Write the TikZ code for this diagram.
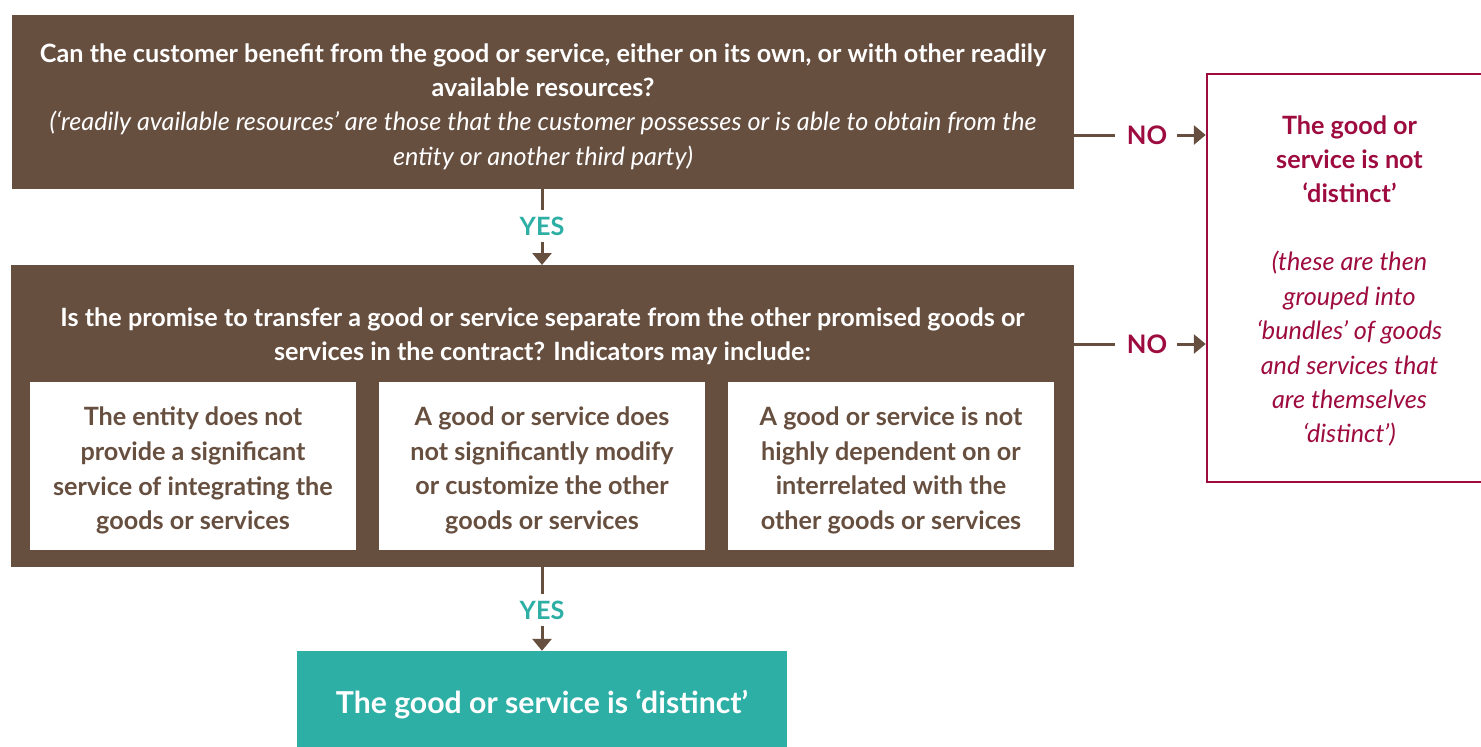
\documentclass[tikz,border=0pt]{standalone}
\usepackage{fontspec}
\setmainfont{Lato}
\usetikzlibrary{arrows.meta}
\definecolor{brn}{HTML}{674F40}
\definecolor{tealc}{HTML}{2DAFA5}
\definecolor{crim}{HTML}{9E0B3F}
\begin{document}
\begin{tikzpicture}[x=1pt,y=-1pt,
  brownbox/.style={fill=brn, draw=none, inner sep=0pt, outer sep=0pt},
  whitebox/.style={fill=white, draw=none, inner sep=0pt, outer sep=0pt, minimum width=326pt, minimum height=168pt},
  qtext/.style={text=white, align=center, inner sep=0pt, font=\fontsize{25.2}{34.5}\selectfont\bfseries},
  qital/.style={text=white, align=center, inner sep=0pt, font=\fontsize{25.2}{34.5}\selectfont\itshape},
  ctext/.style={text=brn, align=center, inner sep=0pt, font=\fontsize{25.2}{34.8}\selectfont\bfseries},
  yeslbl/.style={text=tealc, inner sep=0pt, font=\fontsize{25.2}{27}\selectfont\bfseries},
  nolbl/.style={text=crim, inner sep=0pt, font=\fontsize{25.5}{27}\selectfont\bfseries},
  conn/.style={draw=brn, line width=3pt},
  arr/.style={draw=brn, line width=3pt, -{Triangle[width=19pt,length=12pt]}},
]
\clip (0,0) rectangle (1481,747);
\fill[white] (0,0) rectangle (1481,747);

% box 1
\node[brownbox, minimum width=1062pt, minimum height=174pt] (q1) at (543,102) {};
\node[qtext] (q1a) at (543,70) {Can the customer benefit from the good or service, either on its own, or with other readily\\available resources?};
\node[qital] (q1b) at (543,140.5) {(‘readily available resources’ are those that the customer possesses or is able to obtain from the\\entity or another third party)};

% box 2
\node[brownbox, minimum width=1063pt, minimum height=302pt] (q2) at (542.5,416) {};
\node[qtext] (q2a) at (542.5,336) {Is the promise to transfer a good or service separate from the other promised goods or\\services in the contract? Indicators may include:};
\node[whitebox] (c1) at (193,466) {};
\node[whitebox] (c2) at (542,466) {};
\node[whitebox] (c3) at (891,466) {};
\node[ctext] at ([yshift=-4.5pt]c1) {The entity does not\\provide a significant\\service of integrating the\\goods or services};
\node[ctext] at ([yshift=-4.5pt]c2) {A good or service does\\not significantly modify\\or customize the other\\goods or services};
\node[ctext] at ([yshift=-4.5pt]c3) {A good or service is not\\highly dependent on or\\interrelated with the\\other goods or services};

% result box
\node[fill=tealc, inner sep=0pt, minimum width=490pt, minimum height=110pt] (res) at (542,706) {};
\node[text=white, inner sep=0pt, font=\fontsize{30.2}{36}\selectfont\bfseries] at (542,704) {The good or service is ‘distinct’};

% not distinct box
\node[draw=crim, line width=2.5pt, fill=white, inner sep=0pt, minimum width=285pt, minimum height=408pt] (nd) at (1349.5,278) {};
\node[text=crim, align=center, inner sep=0pt, font=\fontsize{25.2}{34.2}\selectfont\bfseries] at (1349.5,159.5) {The good or\\service is not\\‘distinct’};
\node[text=crim, align=center, inner sep=0pt, font=\fontsize{25.2}{34.4}\selectfont\itshape] at (1349.5,349) {(these are then\\grouped into\\‘bundles’ of goods\\and services that\\are themselves\\‘distinct’)};

% YES connectors
\node[yeslbl] (y1) at (542,226) {YES};
\draw[conn] (y1.north |- q1.south) -- ([yshift=6pt]y1.north);
\draw[arr] ([yshift=-6pt]y1.south) -- (y1.south |- q2.north);
\node[yeslbl] (y2) at (542,610) {YES};
\draw[conn] (y2.north |- q2.south) -- ([yshift=6pt]y2.north);
\draw[arr] ([yshift=-6pt]y2.south) -- (y2.south |- res.north);

% NO connectors
\node[nolbl] (n1) at (1147,135) {NO};
\draw[conn] (n1.west -| q1.east) -- ([xshift=-12pt]n1.west);
\draw[arr] ([xshift=10pt]n1.east) -- (n1.east -| nd.west);
\node[nolbl] (n2) at (1147,344) {NO};
\draw[conn] (n2.west -| q2.east) -- ([xshift=-12pt]n2.west);
\draw[arr] ([xshift=10pt]n2.east) -- (n2.east -| nd.west);
\end{tikzpicture}
\end{document}
